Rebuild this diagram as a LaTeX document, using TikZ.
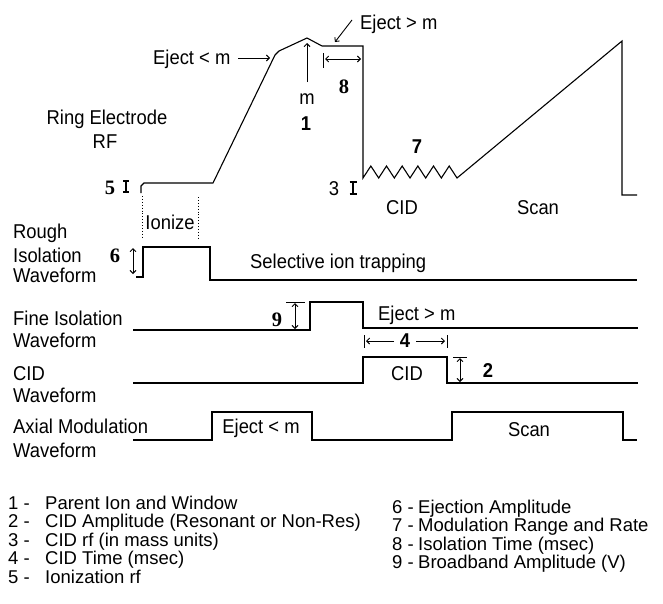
\documentclass[tikz,border=0pt]{standalone}
\usepackage{fontspec}
\setmainfont{Liberation Sans}[FakeStretch=0.92]
\newfontfamily\legfont{Liberation Sans}
\newfontfamily\numserif{Liberation Serif}
\usetikzlibrary{arrows.meta}
\begin{document}
\begin{tikzpicture}[x=1pt,y=-1pt,
 wave/.style={line width=1.1pt, line join=miter},
 thinln/.style={line width=0.9pt},
 lbl/.style={inner sep=0pt, font=\fontsize{20}{22}\selectfont},
 lblw/.style={lbl, anchor=base west},
 lblc/.style={lbl, anchor=base},
 leg/.style={inner sep=0pt, anchor=base west, font=\fontsize{18.5}{20}\selectfont\legfont},
 bnum/.style={inner sep=0pt, anchor=base, font=\fontsize{20}{22}\selectfont\bfseries},
 snum/.style={inner sep=0pt, anchor=base, font=\fontsize{20.5}{22}\selectfont\numserif\bfseries},
 arr/.style={thinln, -{Straight Barb[length=3pt,width=6pt]}},
 darr/.style={thinln, {Straight Barb[length=3pt,width=6pt]}-{Straight Barb[length=3pt,width=6pt]}},
 ibeam/.style={line width=1.3pt},
]
\useasboundingbox (0,0) rectangle (663,603);

% ---------- Ring electrode RF ----------
\draw[wave] (141,193) -- (141,186) -- (144,183) -- (213,183) -- (275,55) -- (279,51)
  -- (307,38) -- (322,46) -- (363,46) -- (363,178)
  \foreach \k in {0,...,5} { -- ({363+15.67*\k+7.83},166) -- ({363+15.67*(\k+1)},178) }
  -- (622,41) -- (622,195) -- (637,195);

\node[lblc] (ring) at (107,124) {Ring Electrode};
\node[lblc] (rf) at (105,148) {RF};

\node[lblw] (ejlt) at (153,64) {Eject < m};
\coordinate (ejlta) at (238,58); \coordinate (ejltb) at (270,58);
\draw[arr] (ejlta) -- (ejltb);

\node[lblw] (ejgt) at (360,29) {Eject > m};
\coordinate (ejgta) at (352,20); \coordinate (ejgtb) at (335,42);
\draw[arr] (ejgta) -- (ejgtb);

\coordinate (ma) at (307,82); \coordinate (mb) at (307,43);
\draw[arr] (ma) -- (mb);
\node[lblc] (m) at (307,104) {m};
\node[bnum] (n1) at (306,130) {1};

\coordinate (t8a) at (323,53); \coordinate (t8b) at (323,68);
\draw[thinln] (t8a) -- (t8b);
\coordinate (a8a) at (325,59); \coordinate (a8b) at (361,59);
\draw[darr] (a8a) -- (a8b);
\node[snum] (n8) at (344,93) {8};

\node[bnum] (n7) at (417,153) {7};

\node[snum] (n5) at (110,194) {5};
\coordinate (i5a) at (126,181); \coordinate (i5b) at (126,192);
\draw[ibeam] (i5a) -- (i5b);
\draw[ibeam] ([xshift=-3pt]i5a) -- ([xshift=3pt]i5a);
\draw[ibeam] ([xshift=-3pt]i5b) -- ([xshift=3pt]i5b);

\node[lblc] (n3) at (334,195) {3};
\coordinate (i3a) at (353,182); \coordinate (i3b) at (353,194);
\draw[ibeam] (i3a) -- (i3b);
\draw[ibeam] ([xshift=-3.5pt]i3a) -- ([xshift=3.5pt]i3a);
\draw[ibeam] ([xshift=-3.5pt]i3b) -- ([xshift=3.5pt]i3b);

\node[lblc] (cidtop) at (402,214) {CID};
\node[lblc] (scantop) at (538,214) {Scan};

\draw[dotted, line width=0.9pt] (142,196) -- (142,238);
\draw[dotted, line width=0.9pt] (198,197) -- (198,238);
\node[lblc] (ionize) at (170,229) {Ionize};

% ---------- Rough isolation ----------
\node[lblw] (rough1) at (13,238) {Rough};
\node[lblw] (rough2) at (13,262) {Isolation};
\node[lblw] (rough3) at (13,282) {Waveform};
\draw[wave] (136,277) -- (143,277) -- (143,247) -- (210,247) -- (210,280) -- (637,280);
\node[snum] (n6) at (115,262) {6};
\coordinate (a6a) at (133,248); \coordinate (a6b) at (133,274);
\draw[darr] (a6a) -- (a6b);
\node[lblw] (sel) at (250,268) {Selective ion trapping};

% ---------- Fine isolation ----------
\node[lblw] (fine1) at (13,325) {Fine Isolation};
\node[lblw] (fine2) at (13,347) {Waveform};
\draw[wave] (133,330) -- (310,330) -- (310,302) -- (363,302) -- (363,328) -- (638,328);
\node[snum] (n9) at (277,326) {9};
\coordinate (b9a) at (286,302); \coordinate (b9b) at (305,302);
\draw[thinln] (b9a) -- (b9b);
\coordinate (a9a) at (295,303); \coordinate (a9b) at (295,329);
\draw[darr] (a9a) -- (a9b);
\node[lblw] (ejgt2) at (378,320) {Eject > m};

% ---------- CID waveform ----------
\node[lblw] (cid1) at (13,380) {CID};
\node[lblw] (cid2) at (13,402) {Waveform};
\draw[wave] (133,383) -- (363,383) -- (363,357) -- (447,357) -- (447,383) -- (638,383);
\node[lblc] (cidp) at (407,380) {CID};
\coordinate (b4a) at (364,335); \coordinate (b4b) at (364,348);
\coordinate (b4c) at (447,335); \coordinate (b4d) at (447,348);
\draw[thinln] (b4a) -- (b4b);
\draw[thinln] (b4c) -- (b4d);
\coordinate (a4a) at (394,341); \coordinate (a4b) at (366,341);
\coordinate (a4c) at (416,341); \coordinate (a4d) at (445,341);
\draw[arr] (a4a) -- (a4b);
\draw[arr] (a4c) -- (a4d);
\node[bnum] (n4) at (405,347) {4};
\coordinate (b2a) at (453,357); \coordinate (b2b) at (467,357);
\draw[thinln] (b2a) -- (b2b);
\coordinate (a2a) at (460,358); \coordinate (a2b) at (460,382);
\draw[darr] (a2a) -- (a2b);
\node[bnum] (n2) at (488,377) {2};

% ---------- Axial modulation ----------
\node[lblw] (ax1) at (13,433) {Axial Modulation};
\node[lblw] (ax2) at (13,457) {Waveform};
\draw[wave] (133,440) -- (212,440) -- (212,412) -- (312,412) -- (312,440) -- (452,440)
  -- (452,412) -- (623,412) -- (623,440) -- (637,440);
\node[lblc] (ejax) at (261,433) {Eject < m};
\node[lblc] (scanax) at (529,436) {Scan};

% ---------- Legend ----------
\node[leg] (l1n) at (8,509) {1 -};    \node[leg] (l1) at (45,509) {Parent Ion and Window};
\node[leg] (l2n) at (8,527.5) {2 -};  \node[leg] (l2) at (45,527.5) {CID Amplitude (Resonant or Non-Res)};
\node[leg] (l3n) at (8,546) {3 -};    \node[leg] (l3) at (45,546) {CID rf (in mass units)};
\node[leg] (l4n) at (8,564.5) {4 -};  \node[leg] (l4) at (45,564.5) {CID Time (msec)};
\node[leg] (l5n) at (8,583) {5 -};    \node[leg] (l5) at (45,583) {Ionization rf};
\node[leg] (l6n) at (392,513) {6 -};  \node[leg] (l6) at (418,513) {Ejection Amplitude};
\node[leg] (l7n) at (392,531.5) {7 -};\node[leg] (l7) at (418,531.5) {Modulation Range and Rate};
\node[leg] (l8n) at (392,550) {8 -};  \node[leg] (l8) at (418,550) {Isolation Time (msec)};
\node[leg] (l9n) at (392,568.5) {9 -};\node[leg] (l9) at (418,568.5) {Broadband Amplitude (V)};
\end{tikzpicture}
\end{document}
